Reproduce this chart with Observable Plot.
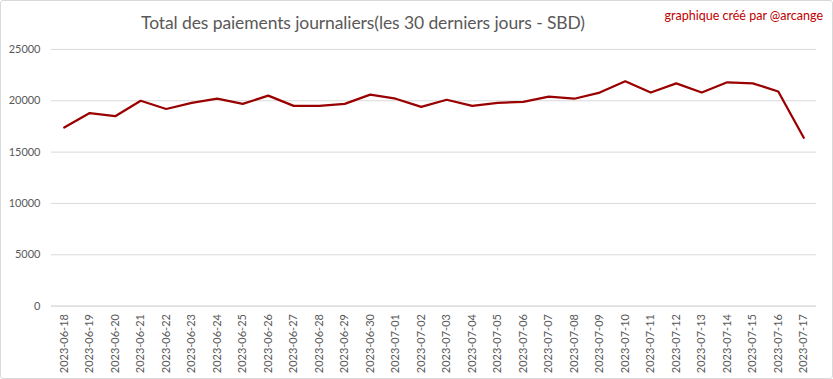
<!DOCTYPE html>
<html>
<head>
<meta charset="utf-8">
<script src="https://cdn.jsdelivr.net/npm/d3@7"></script>
<script src="https://cdn.jsdelivr.net/npm/@observablehq/plot@0.6"></script>
<style>
  html, body { margin: 0; padding: 0; background: #fff; }
  #wrap { position: relative; width: 833px; height: 379px; box-sizing: border-box; border: 1px solid #d9d9d9; border-radius: 3px; overflow: hidden; }
  #chart { position: absolute; left: -1px; top: -1px; }
  #title { position: absolute; left: 0; width: 724px; top: 11px; text-align: center; font-family: Lato, "Open Sans", sans-serif; font-weight: 400; font-size: 17.5px; color: #595959; letter-spacing: -0.1px; }
  #caption { position: absolute; right: 9px; top: 7px; font-family: Lato, "Open Sans", sans-serif; font-size: 12.5px; color: #c00000; }
</style>
</head>
<body>
<div id="wrap">
  <div id="chart"></div>
  <div id="title">Total des paiements journaliers(les 30 derniers jours - SBD)</div>
  <div id="caption">graphique créé par @arcange</div>
</div>
<script>
const dates = [
  "2023-06-18","2023-06-19","2023-06-20","2023-06-21","2023-06-22","2023-06-23","2023-06-24","2023-06-25","2023-06-26","2023-06-27",
  "2023-06-28","2023-06-29","2023-06-30","2023-07-01","2023-07-02","2023-07-03","2023-07-04","2023-07-05","2023-07-06","2023-07-07",
  "2023-07-08","2023-07-09","2023-07-10","2023-07-11","2023-07-12","2023-07-13","2023-07-14","2023-07-15","2023-07-16","2023-07-17"
];
const payments = [
  17400, 18800, 18500, 20000, 19200, 19800, 20200, 19700, 20500, 19500,
  19500, 19700, 20600, 20200, 19400, 20100, 19500, 19800, 19900, 20400,
  20200, 20800, 21900, 20800, 21700, 20800, 21800, 21700, 20900, 16400
];
const yTicks = [0, 5000, 10000, 15000, 20000, 25000];

const data = dates.map((d, i) => ({date: d, value: payments[i]}));

const chart = Plot.plot({
  width: 833,
  height: 379,
  marginLeft: 51,
  marginRight: 16,
  marginTop: 49,
  marginBottom: 73,
  style: {fontFamily: "Lato, 'Open Sans', sans-serif", fontSize: "11px", color: "#595959", background: "transparent"},
  x: {type: "point", domain: dates, padding: 0.5, round: false, label: null},
  y: {domain: [0, 25000], label: null},
  marks: [
    Plot.gridY(yTicks, {stroke: "#d9d9d9", strokeOpacity: 1, strokeWidth: 1}),
    Plot.ruleY([0], {stroke: "#d9d9d9", strokeWidth: 1}),
    Plot.axisY(yTicks, {tickSize: 0, tickPadding: 11, tickFormat: d => String(d), fill: "#595959", fontSize: 11}),
    Plot.axisX(dates, {tickSize: 0, tickRotate: -90, tickPadding: 8, fill: "#595959", fontSize: 11}),
    Plot.line(data, {x: "date", y: "value", stroke: "#9a0000", strokeWidth: 2.25, strokeLinejoin: "round"})
  ]
});
document.getElementById("chart").appendChild(chart);
</script>
</body>
</html>
